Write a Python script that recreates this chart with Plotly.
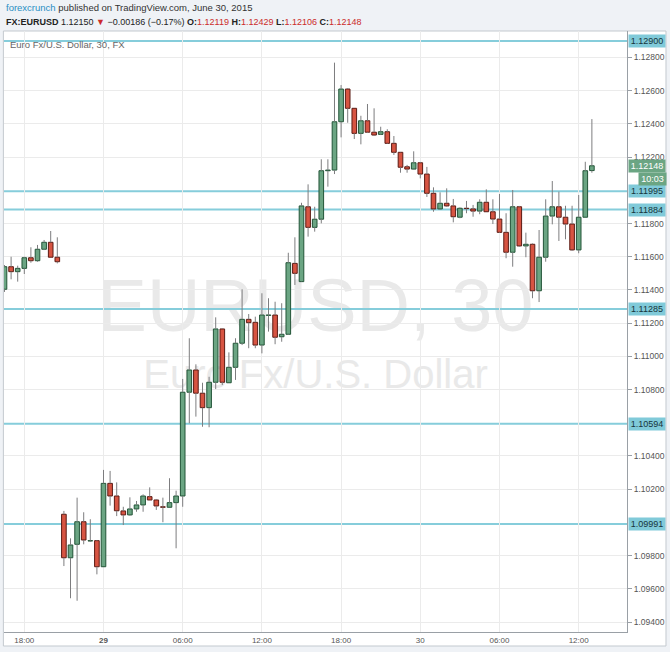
import plotly.graph_objects as go

# ---- data (30-minute EUR/USD candles) ----
opens = [1.11404, 1.11540, 1.11510, 1.11530, 1.11594, 1.11576, 1.11645, 1.11687, 1.11597,
         1.10049, 1.09787, 1.09868, 1.10004, 1.09888, 1.09890, 1.09733, 1.10235, 1.10159, 1.10069,
         1.10045, 1.10081, 1.10105, 1.10155, 1.10135, 1.10094, 1.10091, 1.10119, 1.10159, 1.10784,
         1.10918, 1.10778, 1.10691, 1.10844, 1.11165, 1.10841, 1.10934, 1.11079, 1.11223, 1.11205,
         1.11068, 1.11247, 1.11249, 1.11118, 1.11133, 1.11560, 1.11450, 1.11901, 1.11777, 1.11826,
         1.12118, 1.12122, 1.12413, 1.12610, 1.12494, 1.12343, 1.12419, 1.12350, 1.12337, 1.12353,
         1.12283, 1.12229, 1.12142, 1.12128, 1.12166, 1.12098, 1.11982, 1.11888, 1.11922, 1.11906,
         1.11838, 1.11892, 1.11888, 1.11875, 1.11928, 1.11871, 1.11827, 1.11747, 1.11627, 1.11901,
         1.11665, 1.11675, 1.11395, 1.11597, 1.11845, 1.11901, 1.11838, 1.11797, 1.11641, 1.11838,
         1.12119]
highs = [1.11550, 1.11600, 1.11546, 1.11600, 1.11657, 1.11671, 1.11701, 1.11755, 1.11717,
         1.10069, 1.09904, 1.10149, 1.10061, 1.10019, 1.09894, 1.10316, 1.10310, 1.10241, 1.10094,
         1.10151, 1.10129, 1.10169, 1.10211, 1.10141, 1.10149, 1.10266, 1.10191, 1.10864, 1.11109,
         1.10952, 1.10841, 1.10877, 1.11235, 1.11169, 1.11024, 1.11109, 1.11404, 1.11255, 1.11239,
         1.11380, 1.11350, 1.11329, 1.11320, 1.11624, 1.11717, 1.11925, 1.12036, 1.11901, 1.12187,
         1.12187, 1.12769, 1.12634, 1.12616, 1.12494, 1.12449, 1.12520, 1.12494, 1.12383, 1.12368,
         1.12327, 1.12231, 1.12153, 1.12235, 1.12171, 1.12141, 1.12018, 1.11988, 1.12012, 1.11948,
         1.11897, 1.11936, 1.11912, 1.11946, 1.12006, 1.11946, 1.11978, 1.11862, 1.12002, 1.11906,
         1.11745, 1.11680, 1.11761, 1.11946, 1.12056, 1.11992, 1.11907, 1.11907, 1.11972, 1.12172,
         1.12429]
lows = [1.11388, 1.11464, 1.11450, 1.11496, 1.11564, 1.11570, 1.11640, 1.11597, 1.11560,
        1.09737, 1.09543, 1.09528, 1.09868, 1.09882, 1.09687, 1.09733, 1.10101, 1.10038, 1.09984,
        1.10040, 1.10064, 1.10064, 1.10135, 1.10075, 1.10001, 1.10091, 1.09844, 1.10094, 1.10597,
        1.10637, 1.10576, 1.10573, 1.10803, 1.10827, 1.10841, 1.10858, 1.11068, 1.11049, 1.11049,
        1.11018, 1.11149, 1.11073, 1.11088, 1.11129, 1.11430, 1.11448, 1.11721, 1.11751, 1.11801,
        1.12022, 1.12098, 1.12319, 1.12407, 1.12309, 1.12277, 1.12345, 1.12327, 1.12333, 1.12279,
        1.12213, 1.12106, 1.12106, 1.12125, 1.12072, 1.11960, 1.11871, 1.11882, 1.11901, 1.11807,
        1.11832, 1.11862, 1.11841, 1.11856, 1.11871, 1.11797, 1.11743, 1.11591, 1.11540, 1.11660,
        1.11597, 1.11350, 1.11327, 1.11570, 1.11795, 1.11695, 1.11705, 1.11636, 1.11621, 1.11838,
        1.12106]
closes = [1.11540, 1.11510, 1.11530, 1.11594, 1.11576, 1.11645, 1.11687, 1.11597, 1.11570,
          1.09787, 1.09864, 1.10004, 1.09894, 1.09890, 1.09733, 1.10235, 1.10159, 1.10070, 1.10045,
          1.10081, 1.10105, 1.10159, 1.10135, 1.10099, 1.10091, 1.10119, 1.10159, 1.10784, 1.10918,
          1.10778, 1.10691, 1.10844, 1.11165, 1.10844, 1.10934, 1.11079, 1.11223, 1.11203, 1.11068,
          1.11249, 1.11249, 1.11115, 1.11133, 1.11564, 1.11500, 1.11906, 1.11777, 1.11826, 1.12118,
          1.12122, 1.12413, 1.12610, 1.12494, 1.12343, 1.12419, 1.12350, 1.12333, 1.12353, 1.12283,
          1.12229, 1.12139, 1.12128, 1.12166, 1.12098, 1.11982, 1.11888, 1.11922, 1.11906, 1.11841,
          1.11892, 1.11890, 1.11875, 1.11928, 1.11871, 1.11827, 1.11747, 1.11627, 1.11901, 1.11665,
          1.11675, 1.11395, 1.11597, 1.11845, 1.11901, 1.11838, 1.11797, 1.11641, 1.11838, 1.12118,
          1.12148]

level_prices = [1.12900, 1.11995, 1.11884, 1.11285, 1.10594, 1.09991]
level_labels = ["1.12900", "1.11995", "1.11884", "1.11285", "1.10594", "1.09991"]

time_tick_bars = [3, 15, 27, 39, 51, 63, 75, 87]
time_tick_labels = ["18:00", "<b>29</b>", "06:00", "12:00", "18:00", "30", "06:00", "12:00"]

all_price_ticks = [round(1.094 + 0.002 * i, 3) for i in range(18)]
last_price = 1.12148
last_label = "1.12148"
countdown = "10:03"

x_range = [-0.076, 94.32]
y_range = [1.093398, 1.129596]

# ---- styles ----
UP_FILL, UP_EDGE = "#6ba583", "#225437"
DN_FILL, DN_EDGE = "#d75442", "#5b1a13"
WICK = "#7d7d7f"
LEVEL = "#86cddb"
GRID = "#ebebeb"
AXIS = "#9aa0a6"
TXT = "#555555"
FONT = "Arial, Liberation Sans, sans-serif"

# tick labels hidden behind the level label boxes in the reference
price_ticks = [t for t in all_price_ticks if min(abs(t - p) for p in level_prices) > 0.0002]

bars = list(range(len(opens)))

# wick segments (upper and lower separately so they do not cross the bodies)
wx, wy = [], []
for i, o, h, l, c in zip(bars, opens, highs, lows, closes):
    top, bot = max(o, c), min(o, c)
    wx += [i, i, None, i, i, None]
    wy += [h, top, None, bot, l, None]

up = [i for i in bars if closes[i] >= opens[i]]
dn = [i for i in bars if closes[i] < opens[i]]

fig = go.Figure()
fig.add_trace(go.Scatter(x=wx, y=wy, mode="lines", line=dict(color=WICK, width=1),
                         hoverinfo="skip", showlegend=False))
fig.add_trace(go.Bar(x=up, base=[opens[i] for i in up],
                     y=[closes[i] - opens[i] for i in up], width=0.7,
                     marker=dict(color=UP_FILL, line=dict(color=UP_EDGE, width=1)),
                     showlegend=False))
fig.add_trace(go.Bar(x=dn, base=[closes[i] for i in dn],
                     y=[opens[i] - closes[i] for i in dn], width=0.7,
                     marker=dict(color=DN_FILL, line=dict(color=DN_EDGE, width=1)),
                     showlegend=False))

shapes = [
    # white chart panel incl. axis strips
    dict(type="rect", xref="paper", yref="paper", x0=-0.001, x1=1.0626, y0=-0.0233, y1=1.0,
         fillcolor="white", line=dict(color="#c3c9cf", width=1), layer="below"),
    # watermark
    dict(type="rect", xref="paper", yref="paper", x0=0, x1=1, y0=0.505, y1=0.606,
         line=dict(width=0), fillcolor="rgba(0,0,0,0)", layer="below",
         label=dict(text="EURUSD, 30", textposition="middle center", xanchor="center",
                    font=dict(family=FONT, size=74, color="#e9e9e9"))),
    dict(type="rect", xref="paper", yref="paper", x0=0, x1=1, y0=0.386, y1=0.486,
         line=dict(width=0), fillcolor="rgba(0,0,0,0)", layer="below",
         label=dict(text="Euro Fx/U.S. Dollar", textposition="middle center", xanchor="center",
                    font=dict(family=FONT, size=40, color="#e9e9e9"))),
]
for p in level_prices:
    shapes.append(dict(type="line", xref="x", yref="y", x0=x_range[0], x1=x_range[1],
                       y0=p, y1=p, line=dict(color=LEVEL, width=2), layer="below"))

annotations = []
for p, t in zip(level_prices, level_labels):
    annotations.append(dict(xref="paper", yref="y", x=1.0, y=p, xanchor="left", yanchor="middle",
                            text=t, showarrow=False, bgcolor="#80cad9", borderpad=1,
                            width=34, align="center", xshift=1,
                            font=dict(family=FONT, size=9, color="#17343b")))
annotations.append(dict(xref="paper", yref="y", x=1.0, y=last_price, xanchor="left",
                        yanchor="middle", text=last_label, showarrow=False, bgcolor="#6ba583",
                        borderpad=1, width=34, align="center", xshift=1,
                        font=dict(family=FONT, size=9, color="white")))
annotations.append(dict(xref="paper", yref="y", x=1.0, y=last_price, xanchor="left",
                        yanchor="middle", text=countdown, showarrow=False, bgcolor="#6ba583",
                        borderpad=1, width=25, align="center", xshift=11, yshift=-13,
                        font=dict(family=FONT, size=9, color="white")))
# header
annotations.append(dict(xref="paper", yref="paper", x=0.0, y=1.0391, xanchor="left",
                        yanchor="middle", showarrow=False,
                        text="<span style='color:#2a8fc4'>forexcrunch</span> published on TradingView.com, June 30, 2015",
                        font=dict(family=FONT, size=9.5, color="#333333")))
red = "#cc2b2b"
annotations.append(dict(xref="paper", yref="paper", x=0.0, y=1.0158, xanchor="left",
                        yanchor="middle", showarrow=False,
                        text=("<b>FX:EURUSD</b> 1.12150 <span style='color:%s'>▼</span> −0.00186 (−0.17%%) "
                              "<b>O:</b><span style='color:%s'>1.12119</span> "
                              "<b>H:</b><span style='color:%s'>1.12429</span> "
                              "<b>L:</b><span style='color:%s'>1.12106</span> "
                              "<b>C:</b><span style='color:%s'>1.12148</span>") % (red, red, red, red, red),
                        font=dict(family=FONT, size=9, color="#222222")))
annotations.append(dict(xref="paper", yref="paper", x=0.0064, y=0.978, xanchor="left",
                        yanchor="middle", showarrow=False, text="Euro Fx/U.S. Dollar, 30, FX",
                        font=dict(family=FONT, size=9.5, color="#666666")))

fig.update_layout(
    width=670, height=652,
    margin=dict(l=4, r=43, t=31, b=20),
    paper_bgcolor="#eff2f6", plot_bgcolor="rgba(0,0,0,0)",
    barmode="overlay", showlegend=False,
    shapes=shapes, annotations=annotations,
    xaxis=dict(range=x_range, tickmode="array", tickvals=time_tick_bars,
               ticktext=time_tick_labels, showgrid=True, gridcolor=GRID, gridwidth=1,
               zeroline=False, showline=True, linecolor=AXIS, linewidth=1, ticks="",
               tickfont=dict(family=FONT, size=8, color=TXT)),
    yaxis=dict(side="right", range=y_range, tickmode="array",
               tickvals=price_ticks, tickformat=".5f", showgrid=True, gridcolor=GRID,
               gridwidth=1, zeroline=False, showline=True, linecolor=AXIS, linewidth=1,
               ticks="outside", ticklen=4, tickcolor=AXIS,
               tickfont=dict(family=FONT, size=8.5, color=TXT)),
)

fig.write_html("out.html", config={"displayModeBar": False},
               post_script="document.body.style.margin='0';document.body.style.background='#eff2f6';")
